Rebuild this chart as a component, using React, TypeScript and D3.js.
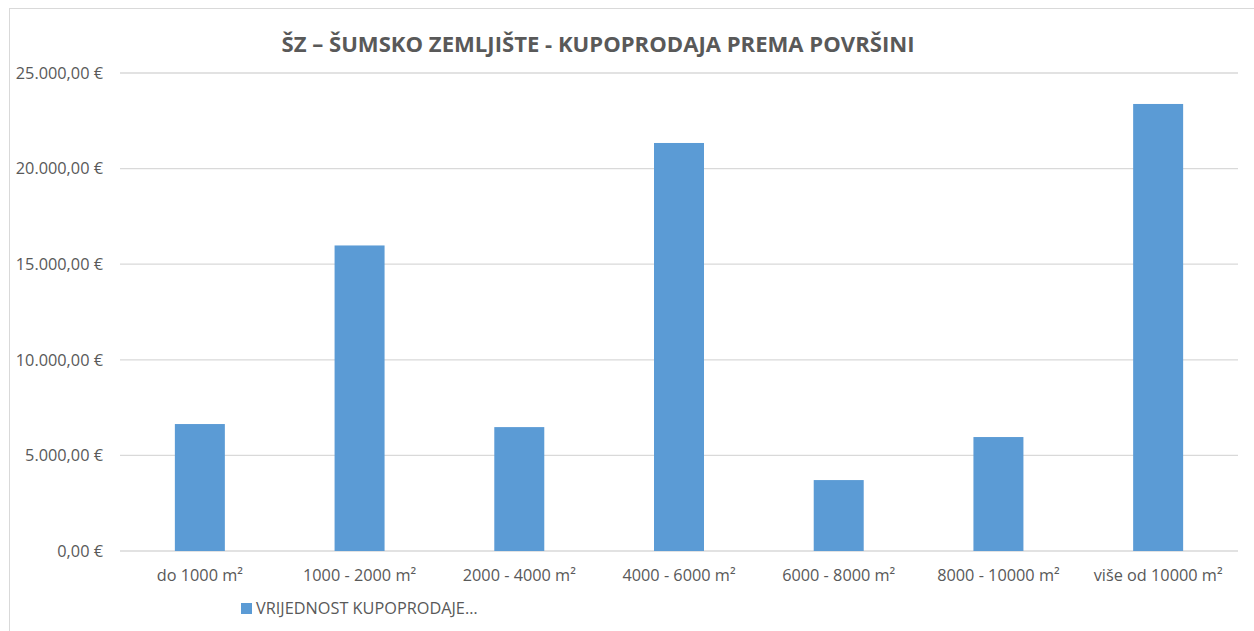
import { useEffect, useRef } from "react";
import * as d3 from "d3";

const categories = [
  "do 1000 m²",
  "1000 - 2000 m²",
  "2000 - 4000 m²",
  "4000 - 6000 m²",
  "6000 - 8000 m²",
  "8000 - 10000 m²",
  "više od 10000 m²",
];
const values = [6640, 15980, 6480, 21340, 3710, 5960, 23380];
const yTicks = [0, 5000, 10000, 15000, 20000, 25000];
const seriesName = "VRIJEDNOST KUPOPRODAJE…";
const title = "ŠZ – ŠUMSKO ZEMLJIŠTE - KUPOPRODAJA PREMA POVRŠINI";

const W = 1254;
const H = 631;
const FONT = "'Open Sans', 'Noto Sans', sans-serif";
const TXT = "#595959";
const AXIS_FS = 16.3;

function fmt(v: number) {
  const s = d3.format(",.2f")(v);
  return s.replace(/,/g, "#").replace(".", ",").replace(/#/g, ".") + " €";
}

export default function App() {
  const ref = useRef<SVGSVGElement>(null);

  useEffect(() => {
    const svg = d3.select(ref.current);
    svg.selectAll("*").remove();

    const left = 120, right = 1238, top = 73, bottom = 551;

    const x = d3.scaleBand().domain(categories).range([left, right]).paddingInner(0.687).paddingOuter(0.3435);
    const y = d3.scaleLinear().domain([0, 25000]).range([bottom, top]);

    // frame
    svg.append("rect")
      .attr("x", 9.5).attr("y", 8.5)
      .attr("width", W).attr("height", H)
      .attr("fill", "white").attr("stroke", "#d9d9d9");

    // title
    svg.append("text")
      .attr("x", 598).attr("y", 52)
      .attr("text-anchor", "middle")
      .attr("font-family", FONT).attr("font-weight", "bold")
      .attr("font-size", 21.5).attr("fill", TXT)
      .attr("textLength", 633).attr("lengthAdjust", "spacingAndGlyphs")
      .text(title);

    // gridlines
    svg.append("g").selectAll("line").data(yTicks).join("line")
      .attr("x1", left).attr("x2", right)
      .attr("y1", (d) => y(d)).attr("y2", (d) => y(d))
      .attr("stroke", "#d9d9d9").attr("stroke-width", 1.3);

    // y labels
    svg.append("g").selectAll("text").data(yTicks).join("text")
      .attr("x", 103).attr("y", (d) => y(d))
      .attr("dy", "0.35em")
      .attr("text-anchor", "end")
      .attr("font-family", FONT).attr("font-size", AXIS_FS).attr("fill", TXT)
      .text((d) => fmt(d));

    // bars
    svg.append("g").selectAll("rect").data(values).join("rect")
      .attr("x", (_, i) => x(categories[i])!)
      .attr("width", x.bandwidth())
      .attr("y", (d) => y(d))
      .attr("height", (d) => bottom - y(d))
      .attr("fill", "#5b9bd5");

    // x labels
    svg.append("g").selectAll("text").data(categories).join("text")
      .attr("x", (d) => x(d)! + x.bandwidth() / 2)
      .attr("y", 581)
      .attr("text-anchor", "middle")
      .attr("font-family", FONT).attr("font-size", AXIS_FS).attr("fill", TXT)
      .text((d) => d);

    // legend
    const lg = svg.append("g");
    lg.append("rect").attr("x", 241).attr("y", 603).attr("width", 11).attr("height", 11).attr("fill", "#5b9bd5");
    lg.append("text")
      .attr("x", 256).attr("y", 614)
      .attr("font-family", FONT).attr("font-size", AXIS_FS).attr("fill", TXT)
      .text(seriesName);
  }, []);

  return (
    <svg
      ref={ref}
      width={W}
      height={H}
      style={{ position: "absolute", left: 0, top: 0, background: "white" }}
    />
  );
}
